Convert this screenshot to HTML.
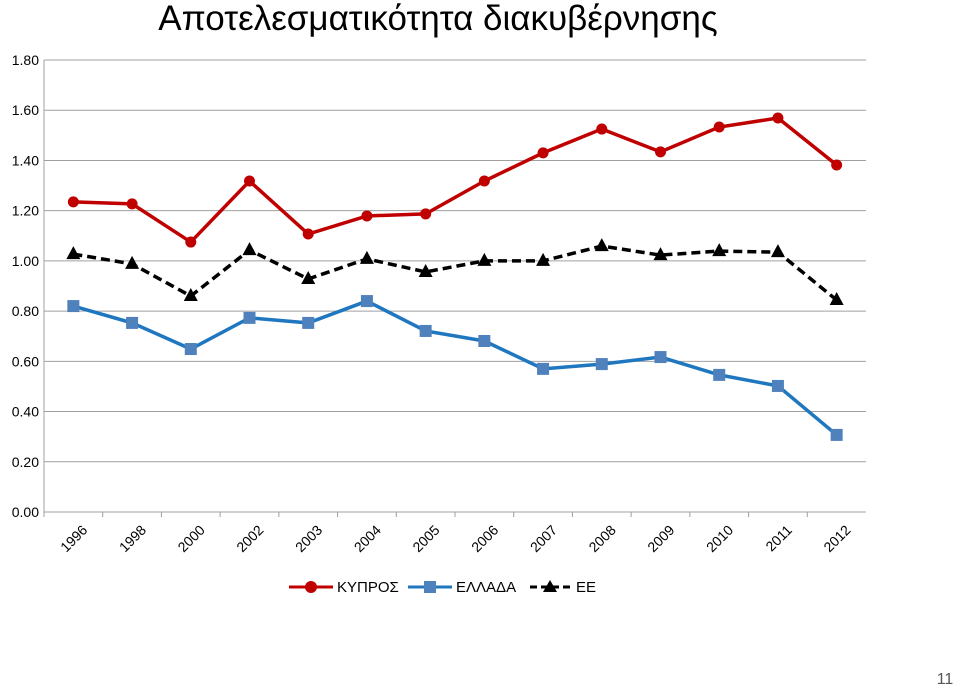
<!DOCTYPE html>
<html><head><meta charset="utf-8"><style>
body{margin:0;background:#fff;width:959px;height:688px;overflow:hidden;font-family:"Liberation Sans",sans-serif}
</style></head><body>
<svg id="chart" width="959" height="688" xmlns="http://www.w3.org/2000/svg" font-family="Liberation Sans, sans-serif">
<text x="438" y="30" text-anchor="middle" font-size="35" fill="#000">Αποτελεσματικότητα διακυβέρνησης</text>
<g id="grid"></g><g id="axes"></g><g id="series"></g>
<g>
<g><line x1="289" y1="587" x2="333" y2="587" stroke="#c00000" stroke-width="3"/><circle cx="311" cy="587" r="6" fill="#c00000"/><text x="337" y="592" font-size="15">ΚΥΠΡΟΣ</text></g>
<g><line x1="408" y1="587" x2="452" y2="587" stroke="#1f77c0" stroke-width="3"/><rect x="424" y="581" width="12" height="12" fill="#4f81bd"/><text x="456" y="592" font-size="15">ΕΛΛΑΔΑ</text></g>
<g><line x1="530" y1="587" x2="570" y2="587" stroke="#000" stroke-width="3" stroke-dasharray="7,4"/><polygon points="550,580 557,592 543,592" fill="#000"/><text x="576" y="592" font-size="15">ΕΕ</text></g>
</g>
<text x="945" y="684" text-anchor="middle" font-size="16" fill="#555">11</text>
</svg>
<script>
const categories=["1996","1998","2000","2002","2003","2004","2005","2006","2007","2008","2009","2010","2011","2012"];
const cyprus=[1.235,1.227,1.075,1.318,1.107,1.179,1.187,1.318,1.43,1.525,1.434,1.533,1.569,1.382];
const greece=[0.82,0.753,0.649,0.773,0.753,0.84,0.721,0.681,0.57,0.589,0.617,0.546,0.502,0.307];
const eu=[1.027,0.988,0.86,1.043,0.928,1.008,0.956,1.0,1.0,1.059,1.023,1.039,1.035,0.844];
const yTicks=[0,0.2,0.4,0.6,0.8,1.0,1.2,1.4,1.6,1.8];
const NS="http://www.w3.org/2000/svg";
const X0=44,X1=866,Y0=512,Y1=60,YMAX=1.8;
const bw=(X1-X0)/categories.length;
const x=i=>X0+bw*(i+0.5);
const y=v=>Y0-(v/YMAX)*(Y0-Y1);
function mk(tag,attrs,parent){const e=document.createElementNS(NS,tag);for(const k in attrs)e.setAttribute(k,attrs[k]);parent.appendChild(e);return e;}
const grid=document.getElementById('grid'),axes=document.getElementById('axes'),ser=document.getElementById('series');
yTicks.forEach(t=>{
 if(t>0){const g=mk('line',{x1:X0,x2:X1,y1:y(t),y2:y(t),stroke:'#a0a0a0','stroke-width':1},grid);
 
 }
 const l=mk('text',{x:X0-5,y:y(t)+5,'text-anchor':'end','font-size':14},axes);l.textContent=t.toFixed(2);
 
 
});
mk('line',{x1:X0,x2:X0,y1:Y1,y2:Y0,stroke:'#a0a0a0'},axes);
mk('line',{x1:X0,x2:X1,y1:Y0,y2:Y0,stroke:'#a0a0a0'},axes);
categories.forEach((c,i)=>{
 mk('line',{x1:X0+bw*i,x2:X0+bw*i,y1:Y0,y2:Y0+5,stroke:'#a0a0a0'},axes);
 const cx=x(i)+8,cy=Y0+12;
 const t=mk('text',{x:cx,y:cy,'text-anchor':'end','font-size':14,transform:`rotate(-45 ${cx} ${cy})`,dy:'0.7em'},axes);
 t.textContent=c;
 
 
});
function series(vals,color,dash,marker,name){
 const g=mk('g',{},ser);
 
 
 const p=mk('polyline',{points:vals.map((v,i)=>x(i)+','+y(v)).join(' '),fill:'none',stroke:color,'stroke-width':3.5},g);
 if(dash)p.setAttribute('stroke-dasharray',dash);
 vals.forEach((v,i)=>{
  let m;
  if(marker==='c')m=mk('circle',{cx:x(i),cy:y(v),r:5.5,fill:'#c00000'},g);
  else if(marker==='s')m=mk('rect',{x:x(i)-6,y:y(v)-6,width:12,height:12,fill:'#4f81bd'},g);
  else m=mk('polygon',{points:`${x(i)},${y(v)-8} ${x(i)+7},${y(v)+5} ${x(i)-7},${y(v)+5}`,fill:'#000'},g);
  
  
 });
}
series(cyprus,'#c00000',null,'c','series-cyprus');
series(greece,'#1f77c0',null,'s','series-greece');
series(eu,'#000','9,5','t','series-eu');
</script>
</body></html>
